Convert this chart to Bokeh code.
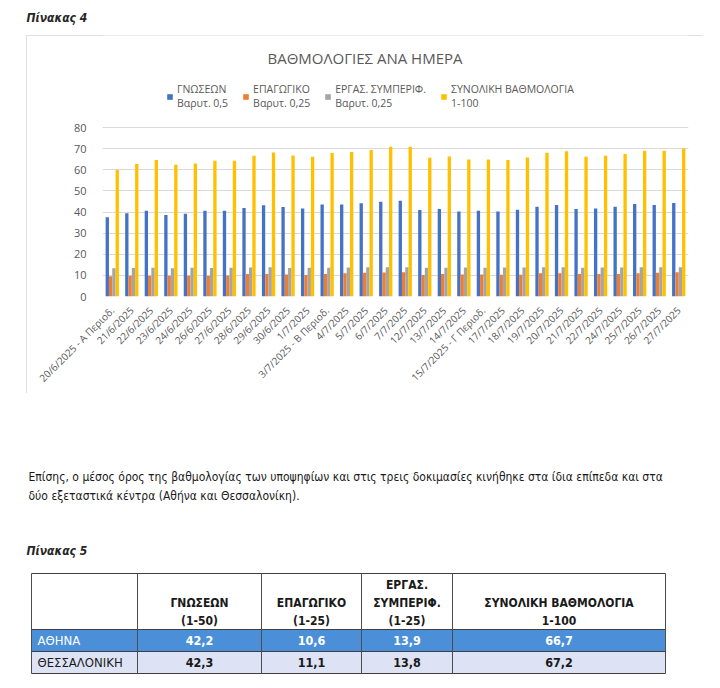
import math
from bokeh.plotting import figure
from bokeh.models import (ColumnDataSource, FactorRange, Range1d, Legend, LegendItem,
                          Label, Spacer, FixedTicker)
from bokeh.layouts import column, row
from bokeh.transform import dodge
from bokeh.embed import file_html
from bokeh.resources import INLINE
from bokeh.core.properties import value

# ---------------- data ----------------
dates = ["20/6/2025 - Α Περιοδ.", "21/6/2025", "22/6/2025", "23/6/2025", "24/6/2025",
         "26/6/2025", "27/6/2025", "28/6/2025", "29/6/2025", "30/6/2025", "1/7/2025",
         "3/7/2025 - Β Περιοδ.", "4/7/2025", "5/7/2025", "6/7/2025", "7/7/2025",
         "12/7/2025", "13/7/2025", "14/7/2025", "15/7/2025 - Γ Περιοδ.", "17/7/2025",
         "18/7/2025", "19/7/2025", "20/7/2025", "21/7/2025", "22/7/2025", "24/7/2025",
         "25/7/2025", "26/7/2025", "27/7/2025"]
gnoseon = [37.5, 39.4, 40.6, 38.6, 39.2, 40.6, 40.6, 41.9, 43.2, 42.4, 41.7, 43.5, 43.5,
           44.1, 44.9, 45.3, 41.0, 41.4, 40.2, 40.6, 40.2, 41.1, 42.5, 43.3, 41.4, 41.7,
           42.5, 43.8, 43.3, 44.3]
epagogiko = [9.6, 9.8, 9.8, 9.8, 9.8, 9.8, 10.0, 10.6, 10.7, 10.4, 10.2, 10.7, 11.0,
             11.3, 11.4, 11.5, 10.2, 10.7, 10.4, 10.4, 10.3, 10.3, 11.0, 11.0, 10.6, 10.7,
             10.6, 11.0, 11.2, 11.5]
ergas = [13.4, 13.5, 13.6, 13.4, 13.6, 13.5, 13.6, 13.7, 13.8, 13.5, 13.6, 13.6, 13.7,
         13.8, 13.9, 13.9, 13.6, 13.6, 13.7, 13.6, 13.7, 13.7, 13.8, 13.8, 13.6, 13.7,
         13.7, 13.8, 13.9, 13.9]
synoliki = [59.9, 62.7, 64.6, 62.4, 63.0, 64.3, 64.3, 66.6, 68.2, 66.8, 66.2, 67.9, 68.4,
            69.3, 70.9, 70.9, 65.7, 66.3, 64.9, 64.9, 64.6, 65.8, 68.0, 68.7, 66.2, 66.6,
            67.4, 69.0, 69.0, 70.1]
series_labels = ["ΓΝΩΣΕΩΝ\nΒαρυτ. 0,5", "ΕΠΑΓΩΓΙΚΟ\nΒαρυτ. 0,25",
                 "ΕΡΓΑΣ. ΣΥΜΠΕΡΙΦ.\nΒαρυτ. 0,25", "ΣΥΝΟΛΙΚΗ ΒΑΘΜΟΛΟΓΙΑ\n1-100"]
y_ticks = [0, 10, 20, 30, 40, 50, 60, 70, 80]
chart_title = "ΒΑΘΜΟΛΟΓΙΕΣ ΑΝΑ ΗΜΕΡΑ"

table_headers = ["", "ΓΝΩΣΕΩΝ\n(1-50)", "ΕΠΑΓΩΓΙΚΟ\n(1-25)", "ΕΡΓΑΣ.\nΣΥΜΠΕΡΙΦ.\n(1-25)",
                 "ΣΥΝΟΛΙΚΗ ΒΑΘΜΟΛΟΓΙΑ\n1-100"]
table_rows = ["ΑΘΗΝΑ", "ΘΕΣΣΑΛΟΝΙΚΗ"]
gnoseon_city = [42.2, 42.3]
epagogiko_city = [10.6, 11.1]
ergas_city = [13.9, 13.8]
synoliki_city = [66.7, 67.2]

heading4 = "Πίνακας 4"
heading5 = "Πίνακας 5"
paragraph = ["Επίσης, ο μέσος όρος της βαθμολογίας των υποψηφίων και στις τρεις δοκιμασίες κινήθηκε στα ίδια επίπεδα και στα",
             "δύο εξεταστικά κέντρα (Αθήνα και Θεσσαλονίκη)."]

# ---------------- styles / layout ----------------
NARROW = "'Liberation Sans Narrow', 'DejaVu Sans Condensed', sans-serif"
CAL = "Open Sans"
GRAY = "#595959"
colors = ["#4472c4", "#ed7d31", "#a5a5a5", "#ffc000"]
offsets = [-0.255, -0.085, 0.085, 0.255]

CHART_W, CHART_H = 677, 358
BORDER_L, BORDER_R, BORDER_B = 76, 15, 97
FRAME_H = CHART_H - BORDER_B          # frame spans whole upper chart box
GRID_TOP_PX = 169                     # pixel height of the 0..80 grid
Y_END = y_ticks[-1] * FRAME_H / GRID_TOP_PX


def blank(w, h):
    f = figure(width=w, height=h, x_range=Range1d(0, w), y_range=Range1d(h, 0),
               output_backend="svg", toolbar_location=None,
               min_border=0, min_border_left=0, min_border_right=0,
               min_border_top=0, min_border_bottom=0)
    f.axis.visible = False
    f.grid.visible = False
    f.outline_line_color = None
    f.background_fill_color = None
    f.border_fill_color = None
    return f


# ---------------- header ----------------
head = blank(712, 35)
head.text(x=[26], y=[17], text=[heading4], text_font=value(NARROW), text_font_size="12px",
          text_font_style="bold italic", text_color="#262626", text_baseline="middle")

# ---------------- chart ----------------
src = ColumnDataSource(dict(dates=dates, g=gnoseon, e=epagogiko, r=ergas, s=synoliki))
chart = figure(x_range=FactorRange(*dates, range_padding=0), y_range=Range1d(0, Y_END),
               width=CHART_W, height=CHART_H, output_backend="svg", toolbar_location=None,
               min_border_left=BORDER_L, min_border_right=BORDER_R, min_border_top=0,
               min_border_bottom=BORDER_B)
chart.styles = {"outline": "1px solid #d6d6d6", "outline-offset": "-1px"}
chart.outline_line_color = None
chart.xgrid.grid_line_color = None
chart.ygrid.grid_line_color = "#d9d9d9"
chart.yaxis.ticker = FixedTicker(ticks=y_ticks)
for ax in (chart.xaxis[0], chart.yaxis[0]):
    ax.axis_line_color = None
    ax.major_tick_line_color = None
    ax.minor_tick_line_color = None
    ax.major_label_text_color = GRAY
    ax.major_label_text_font = CAL
chart.yaxis.major_label_text_font_size = "11px"
chart.yaxis.major_label_standoff = 10
chart.xaxis.major_label_text_font_size = "10px"
chart.xaxis.major_label_orientation = math.pi / 4
chart.xaxis.major_label_standoff = 6

items = []
for key, col, off, lab in zip(["g", "e", "r", "s"], colors, offsets, series_labels):
    rr = chart.vbar(x=dodge("dates", off, range=chart.x_range), top=key, width=0.17,
                    source=src, fill_color=col, line_color=None)
    items.append(LegendItem(label=lab, renderers=[rr]))

legend = Legend(items=items, orientation="horizontal", location=(64, 186),
                border_line_color=None, background_fill_alpha=0, padding=0, margin=0,
                spacing=14, label_standoff=4, glyph_width=7, glyph_height=7,
                label_text_font=CAL, label_text_font_size="10.5px",
                label_text_color=GRAY, label_text_line_height=1.35)
chart.add_layout(legend, "center")

chart.add_layout(Label(x=262.5, y=FRAME_H - 22, x_units="screen", y_units="screen",
                       text=chart_title, text_align="center", text_baseline="middle",
                       text_font=CAL, text_font_size="15px", text_color=GRAY))

# ---------------- bottom: paragraph + table ----------------
BH = 292
bot = blank(712, BH)
bot.text(x=[28, 28], y=[83, 102], text=paragraph, text_font=value(NARROW),
         text_font_size="12px", text_color="#1a1a1a", text_baseline="middle")
bot.text(x=[26], y=[157], text=[heading5], text_font=value(NARROW), text_font_size="12px",
         text_font_style="bold italic", text_color="#262626", text_baseline="middle")

col_edges = [31, 137, 261, 361, 452, 665]
row_edges = [180, 236, 258, 280]
row_fills = ["#4a8fd8", "#dde3f4"]
row_text_colors = ["#ffffff", "#1a1a1a"]

bot.quad(left=[col_edges[0]] * 2, right=[col_edges[-1]] * 2, top=row_edges[1:3],
         bottom=row_edges[2:4], fill_color=row_fills, line_color=None)
hx0 = [col_edges[0]] * len(row_edges)
hx1 = [col_edges[-1]] * len(row_edges)
bot.segment(x0=hx0, y0=row_edges, x1=hx1, y1=row_edges, line_color="#3f3f3f", line_width=1)
bot.segment(x0=col_edges, y0=[row_edges[0]] * len(col_edges), x1=col_edges,
            y1=[row_edges[-1]] * len(col_edges), line_color="#4d4d4d", line_width=1)

centers = [(col_edges[i] + col_edges[i + 1]) / 2 for i in range(len(col_edges) - 1)]
bot.text(x=centers[1:], y=[row_edges[1] - 1] * 4, text=table_headers[1:],
         text_font=value(NARROW), text_font_size="12px", text_font_style="bold",
         text_color="#1a1a1a", text_align="center", text_baseline="bottom",
         text_line_height=1.3)
for i, name in enumerate(table_rows):
    ymid = (row_edges[i + 1] + row_edges[i + 2]) / 2
    bot.text(x=[col_edges[0] + 6], y=[ymid], text=[name], text_font=value(NARROW),
             text_font_size="13px", text_color=row_text_colors[i], text_baseline="middle")
    vals = [gnoseon_city[i], epagogiko_city[i], ergas_city[i], synoliki_city[i]]
    bot.text(x=centers[1:], y=[ymid] * 4, text=[f"{v:.1f}".replace(".", ",") for v in vals],
             text_font=value(NARROW), text_font_size="12.5px", text_font_style="bold",
             text_color=row_text_colors[i], text_align="center", text_baseline="middle")

layout = column(head, row(Spacer(width=26, height=CHART_H), chart), bot)

open("out.html", "w").write(file_html(layout, INLINE))
